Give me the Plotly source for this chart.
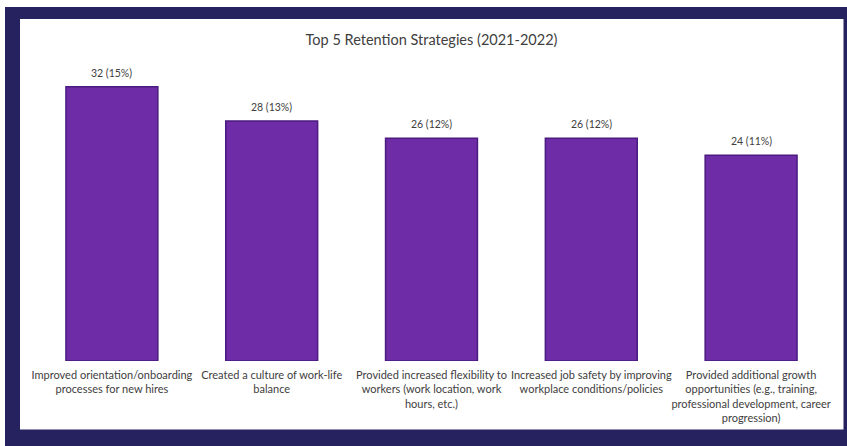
import plotly.graph_objects as go

# Survey results: top five retention strategies
strategies = [
    "Improved orientation/onboarding<br>processes for new hires",
    "Created a culture of work-life<br>balance",
    "Provided increased flexibility to<br>workers (work location, work<br>hours, etc.)",
    "Increased job safety by improving<br>workplace conditions/policies",
    "Provided additional growth<br>opportunities (e.g., training,<br>professional development, career<br>progression)",
]
counts = [32, 28, 26, 26, 24]
percents = [15, 13, 12, 12, 11]

W, H = 847, 446
M = dict(l=32, r=16, t=61, b=85)
PW = W - M["l"] - M["r"]
PH = H - M["t"] - M["b"]

def px_x(px):
    return (px - M["l"]) / PW

def px_y(py):
    return (H - M["b"] - py) / PH

FONT = "Lato, 'Open Sans', sans-serif"
TEXT = "#404040"

fig = go.Figure(
    go.Bar(
        x=list(range(len(strategies))),
        y=counts,
        marker=dict(color="#6e2ca6", line=dict(color="#4a1b80", width=1.5)),
        width=0.575,
        cliponaxis=False,
        hoverinfo="skip",
    )
)

# value labels above each bar
for i, (c, p) in enumerate(zip(counts, percents)):
    fig.add_annotation(
        x=i, y=c, text=f"{c} ({p}%)", showarrow=False,
        yanchor="bottom", yshift=6,
        font=dict(family=FONT, size=10.5, color=TEXT),
    )

# navy frame with white panel
fig.add_shape(type="rect", xref="paper", yref="paper",
              x0=px_x(5), x1=px_x(847), y0=px_y(446), y1=px_y(7),
              fillcolor="#26215f", line=dict(width=0), layer="below")
fig.add_shape(type="rect", xref="paper", yref="paper",
              x0=px_x(20), x1=px_x(843.5), y0=px_y(429.5), y1=px_y(19),
              fillcolor="#ffffff", line=dict(width=0), layer="below")

fig.update_layout(
    width=W, height=H,
    margin=M,
    paper_bgcolor="#ffffff",
    plot_bgcolor="rgba(0,0,0,0)",
    showlegend=False,
    title=dict(
        text="Top 5 Retention Strategies (2021-2022)",
        x=0.5, xref="paper", xanchor="center",
        y=1 - 40 / H, yref="container", yanchor="middle",
        font=dict(family=FONT, size=14.5, color=TEXT),
    ),
    xaxis=dict(
        tickmode="array",
        tickvals=list(range(len(strategies))),
        ticktext=strategies,
        range=[-0.5, len(strategies) - 0.5],
        showgrid=False, zeroline=False, showline=False, ticks="",
        tickfont=dict(family=FONT, size=11, color=TEXT),
        tickangle=0,
        ticklabelstandoff=6,
    ),
    yaxis=dict(
        range=[0, 35],
        visible=False,
    ),
)

fig.write_html("out.html")
